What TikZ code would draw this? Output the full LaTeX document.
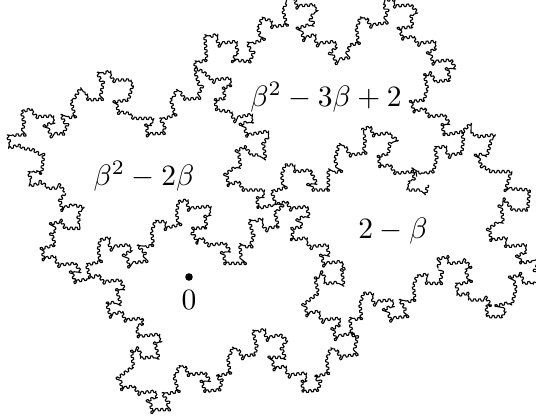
\documentclass[tikz,border=0pt]{standalone}
\usetikzlibrary{decorations}
\pgfdeclaredecoration{wig}{s}{
 \state{s}[width=5pt]{
  \pgfpathlineto{\pgfpoint{0.4pt}{1.15pt}}
  \pgfpathlineto{\pgfpoint{2.1pt}{1.15pt}}
  \pgfpathlineto{\pgfpoint{2.5pt}{0pt}}
  \pgfpathlineto{\pgfpoint{2.9pt}{-1.15pt}}
  \pgfpathlineto{\pgfpoint{4.6pt}{-1.15pt}}
  \pgfpathlineto{\pgfpoint{5pt}{0pt}}
 }
 \state{final}{\pgfpathlineto{\pgfpointdecoratedpathlast}}
}
\tikzset{
 curve/.style={draw=black,line width=1.1pt,line join=round,decorate,decoration={wig}},
 lab/.style={inner sep=0pt,scale=2.95}
}
\newcommand{\arcpiece}[3]{\draw[shift={(#1,#2)},x=0.33333pt,y=-0.33333pt,curve] plot coordinates {#3};}
\begin{document}
\begin{tikzpicture}[x=1pt,y=-1pt]
\useasboundingbox (0,0) rectangle (536,418);
% outer, upper left
\arcpiece{0}{190}{(240,115)(195,115)(185,95)(160,100)(165,120)(155,130)(165,165)(128,175)(130,205)(160,200)(175,225)(225,220)(235,235)(215,245)(225,275)(270,265)}
\arcpiece{0}{190}{(195,10)(180,30)(185,55)(215,45)(245,50)(235,80)(240,115)}
\arcpiece{0}{60}{(195,395)(185,383)(150,385)(125,368)(100,375)(88,345)(105,335)(125,340)(130,290)(100,270)(70,265)(55,255)(35,262)(25,235)(45,225)(65,225)(72,190)(65,155)(90,148)(110,170)(150,168)(162,185)(140,195)(150,220)(190,222)(200,200)(188,175)(225,170)(215,130)(235,95)(255,100)(265,120)(300,118)(308,75)(295,45)(325,35)(340,60)(385,60)(398,75)(385,120)(348,125)(355,155)(385,160)(400,175)(455,175)(455,190)(440,195)(442,222)(490,220)(495,200)(482,180)(525,165)(515,130)(525,100)(540,95)}
\arcpiece{180}{0}{(0,275)(15,298)(50,295)(62,270)(48,225)(45,190)(80,180)(75,115)(105,105)(115,130)(165,125)(172,150)(160,180)(210,185)(218,165)(205,135)(245,120)(235,90)(245,55)(265,60)(275,80)(320,75)(310,35)(320,0)}
\arcpiece{270}{0}{(50,0)(58,-8)(75,-3)(80,18)(120,15)(135,25)(125,50)(130,70)(92,82)(100,115)(130,105)(140,130)(190,125)(200,140)(185,155)(195,180)(225,175)(240,135)(265,130)(260,90)(268,60)(290,55)(300,75)(340,70)(350,40)(340,10)(345,0)}
\arcpiece{356}{0}{(87,0)(105,0)(115,18)(165,15)(178,30)(165,50)(170,80)(130,85)(140,115)(170,110)(185,130)(230,125)(240,145)(222,155)(230,185)(285,180)(293,195)(275,205)(282,240)(240,245)(225,222)(205,225)(213,260)(205,300)(165,305)(175,335)(205,325)(220,350)(265,345)(277,365)(258,375)(265,405)(320,395)(335,380)(345,400)}
\arcpiece{356}{130}{(345,10)(370,20)(410,15)(395,70)(365,75)(375,105)(405,125)(465,125)(450,175)(520,180)(515,240)(470,240)(450,215)(435,225)(440,265)(400,295)(405,330)(440,325)(450,350)(500,345)(510,365)(490,375)(495,400)(540,390)}
% right end and bottom right
\arcpiece{436}{225}{(300,105)(310,110)(300,128)(310,160)(300,170)(265,175)(255,150)(230,155)(240,190)(230,230)(190,240)(205,255)(200,275)(155,275)(150,245)(165,240)(155,225)(110,225)(95,205)(70,210)(60,180)(100,170)(90,140)(105,125)(90,110)(45,115)(35,95)(15,100)(5,130)}
% bottom
\arcpiece{270}{270}{(30,194)(50,210)(35,235)(45,262)(5,262)(12,295)(40,290)(55,315)(100,310)(110,330)(95,335)(100,365)(145,360)(150,340)(135,320)(175,310)(170,270)(180,240)(200,240)(210,260)(250,255)(260,210)(245,190)(240,150)(275,145)(270,105)(280,70)(300,70)(310,95)(360,90)(370,105)(350,115)(360,145)(405,140)(405,115)(395,100)(435,90)(430,50)(440,20)(460,15)(470,40)(510,40)(515,15)(505,0)}
\arcpiece{100}{278}{(110,150)(115,175)(165,170)(180,185)(165,195)(175,235)(130,240)(115,215)(95,220)(100,265)(60,295)(65,330)(100,325)(115,345)(160,340)(170,355)(150,365)(155,395)(200,395)(205,375)(190,350)(235,340)(225,305)(235,270)(255,265)(265,290)(315,285)(325,300)(305,310)(315,340)(360,335)(365,310)(350,295)(390,285)(385,250)(395,215)(415,215)(425,235)(465,230)(470,205)(460,165)(490,155)(500,180)(540,170)}
% lower-left branches from the junction at (90,278)
\arcpiece{0}{190}{(270,265)(295,255)(310,275)(360,270)(370,290)(350,300)(360,335)(320,340)(330,375)(365,365)(375,390)(425,385)(430,400)(410,410)(410,415)}
\arcpiece{0}{190}{(270,265)(260,225)(300,215)(295,180)(300,150)(320,145)(330,170)(380,165)(395,180)(380,190)(385,220)(430,215)(435,190)(420,175)(460,165)(455,125)(465,95)(485,95)(495,115)(535,105)(530,70)(535,35)}
% tile 0 upper edge
\arcpiece{200}{130}{(-65,215)(-40,210)(-35,235)(20,230)(30,250)(15,260)(20,293)(-20,295)(-22,305)(-10,335)(5,325)(25,345)(75,340)(85,355)(70,365)(75,400)(125,400)(120,350)(150,350)(160,320)(150,280)(175,270)(195,295)(235,290)(225,250)(240,235)(232,222)}
% from (195,63) to the central crossing
\arcpiece{180}{0}{(45,205)(70,215)(95,240)(145,235)(155,255)(130,265)(135,295)(105,300)(110,330)(150,335)(160,355)(205,345)(215,360)(190,370)(200,405)(255,395)(265,415)}
\arcpiece{200}{130}{(205,20)(190,40)(195,75)(155,75)(135,50)(115,60)(120,100)(80,130)(85,165)(115,155)(130,180)(185,180)(190,195)(170,205)(175,235)(232,222)}
% central crossing to upper right
\arcpiece{200}{130}{(232,222)(225,215)(215,185)(250,175)(245,135)(255,105)(275,105)(285,125)(330,120)(345,150)(330,160)(340,180)(385,180)(385,130)(415,125)(405,90)(415,50)(435,50)(450,75)(490,70)(495,35)(490,0)}
\arcpiece{345}{115}{(50,45)(75,35)(85,60)(125,55)(150,70)(135,85)(130,115)(100,125)(105,155)(135,150)(150,175)(205,170)(215,185)}
\arcpiece{345}{115}{(238,175)(265,170)(275,130)(270,100)(295,95)(310,120)(350,115)(355,75)(350,50)}
\arcpiece{356}{130}{(215,165)(212,180)(165,180)(160,165)(175,145)(170,125)(205,130)}
% central crossing to lower right
\arcpiece{200}{130}{(232,222)(260,215)(270,235)(320,230)(325,250)(300,265)(305,290)(280,295)(275,330)(310,325)(330,350)(380,345)(385,365)(365,375)(370,400)(420,395)(435,415)}
\arcpiece{270}{270}{(225,-5)(215,0)(220,35)(175,40)(160,15)(135,25)(145,70)(105,100)(110,130)(140,125)(155,150)(205,145)(210,165)(190,175)(195,200)(245,190)(258,205)}
% labels
\node[lab] (a) at (144,176) {$\beta^2-2\beta$};
\node[lab] (b) at (326,97) {$\beta^2-3\beta+2$};
\node[lab] (c) at (393,231) {$2-\beta$};
\node[lab] (z) at (189,300) {$0$};
\fill (189,277) circle (3.8) coordinate (o);
\end{tikzpicture}
\end{document}
